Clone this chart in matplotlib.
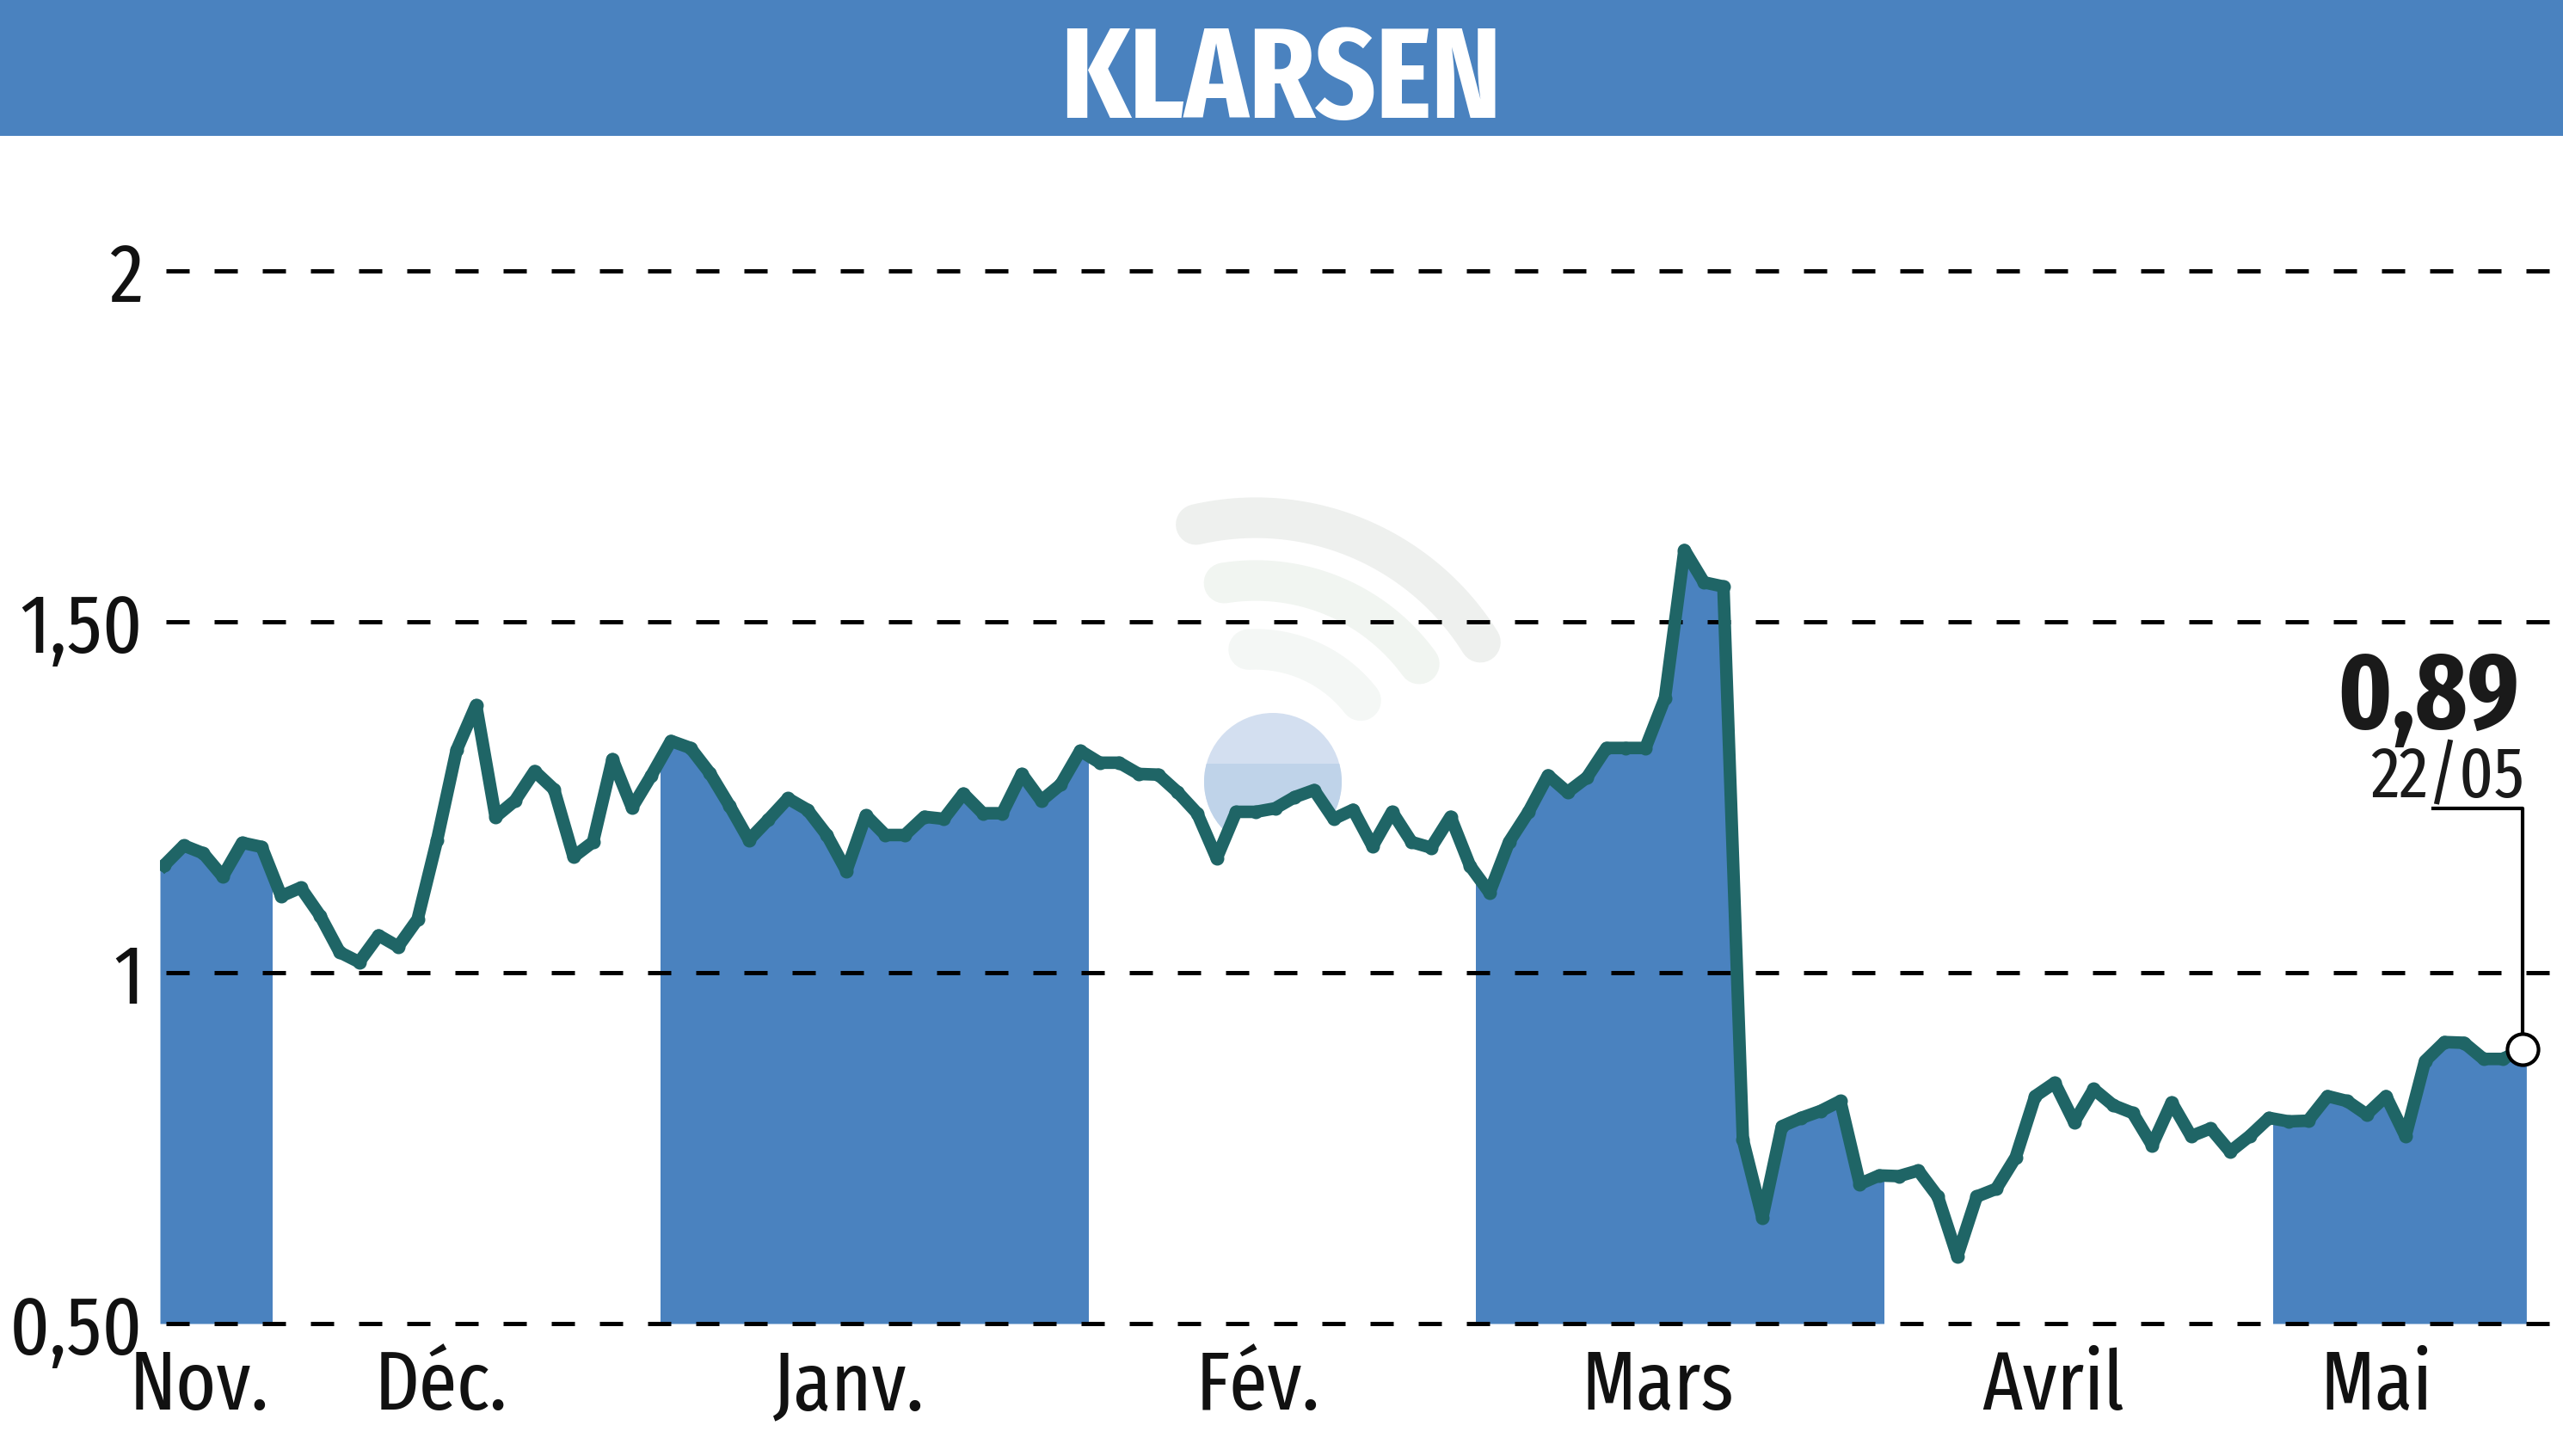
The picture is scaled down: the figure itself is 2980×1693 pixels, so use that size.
import numpy as np
import matplotlib
matplotlib.use("Agg")
import matplotlib.pyplot as plt
from matplotlib.patches import Circle, Rectangle

# Cours de l'action, une valeur par seance
prix = [
    1.153, 1.181, 1.170, 1.137, 1.185, 1.179, 1.109, 1.121, 1.081, 1.029,
    1.015, 1.053, 1.037, 1.076, 1.189, 1.317, 1.381, 1.222, 1.245, 1.287,
    1.261, 1.165, 1.186, 1.304, 1.235, 1.281, 1.330, 1.320, 1.284, 1.238,
    1.189, 1.218, 1.248, 1.232, 1.196, 1.145, 1.224, 1.196, 1.196, 1.222,
    1.219, 1.255, 1.227, 1.227, 1.283, 1.245, 1.268, 1.316, 1.299, 1.299,
    1.283, 1.282, 1.257, 1.227, 1.163, 1.229, 1.229, 1.234, 1.250, 1.260,
    1.219, 1.232, 1.180, 1.229, 1.186, 1.178, 1.222, 1.152, 1.114, 1.186,
    1.229, 1.281, 1.257, 1.278, 1.320, 1.320, 1.320, 1.391, 1.602, 1.556,
    1.550, 0.762, 0.651, 0.781, 0.793, 0.803, 0.817, 0.699, 0.711, 0.710,
    0.718, 0.681, 0.596, 0.681, 0.692, 0.737, 0.824, 0.843, 0.787, 0.834,
    0.811, 0.800, 0.754, 0.815, 0.767, 0.778, 0.745, 0.767, 0.793, 0.788,
    0.789, 0.824, 0.817, 0.798, 0.824, 0.767, 0.874, 0.901, 0.900, 0.877,
    0.877, 0.891,
]
mois = ["Nov.", "Déc.", "Janv.", "Fév.", "Mars", "Avril", "Mai"]
mois_pos = [1.8, 14.2, 35.1, 56.1, 76.6, 96.9, 113.5]
# un mois sur deux est rempli en bleu (debut, fin en seances)
bandes = [(-0.22, 5.5), (25.46, 47.4), (67.3, 88.2), (108.2, 121.2)]
y_ticks = [0.5, 1, 1.5, 2]
y_labels = ["0,50", "1", "1,50", "2"]
dernier_cours = "0,89"
derniere_date = "22/05"

BLEU = "#4a82bf"
VERT = "#1f6566"
NARROW = ["Fira Sans Extra Condensed", "Barlow Condensed", "DejaVu Sans"]

W, H = 2980, 1693
fig = plt.figure(figsize=(W / 100, H / 100), dpi=100, facecolor="white")

# fond en pixels : bandeau, filigrane, textes
bg = fig.add_axes([0, 0, 1, 1], zorder=0)
bg.set_xlim(0, W)
bg.set_ylim(H, 0)
bg.axis("off")

bg.add_patch(Rectangle((0, 0), W, 158, color=BLEU, lw=0))
bg.text(1489, 137, "KLARSEN", color="white", fontsize=107, fontweight="bold",
        family=NARROW, ha="center", va="baseline")

# filigrane
for r, a1, a2, c in [(308, -103, -32, "#eef0ee"), (235, -99, -36, "#f1f5f1"),
                     (155, -93, -38, "#f4f7f5")]:
    t = np.radians(np.linspace(a1, a2, 60))
    bg.plot(1460 + r * np.cos(t), 910 + r * np.sin(t), color=c, lw=34,
            solid_capstyle="round")
bg.add_patch(Circle((1480, 909), 80, color="#d3dff0", lw=0))
bas_boule = Circle((1480, 909), 80, color="#bfd3e9", lw=0)
bg.add_patch(bas_boule)
bas_boule.set_clip_path(Rectangle((1390, 888), 180, 110, transform=bg.transData))

bg.text(2929, 847, dernier_cours, color="#1a1a1a", fontsize=90, fontweight="bold",
        family=NARROW, ha="right", va="baseline")
bg.text(2935, 927, derniere_date, color="#1a1a1a", fontsize=60,
        family=NARROW, ha="right", va="baseline")

# graphique
ax = fig.add_axes([186 / W, (H - 1539) / H, (W - 186) / W, (1539 - 158) / H], zorder=1)
ax.patch.set_visible(False)
ax.set_xlim(-0.22, 123.08)
ax.set_ylim(0.5, 2.192)
for s in ax.spines.values():
    s.set_visible(False)

x = np.arange(len(prix))
prix = np.array(prix)

# le filigrane ne passe pas sous la courbe
ax.fill_between(x, prix, 0.5, color="white", lw=0, zorder=1)

xx = np.r_[-0.22, x, 121.2]
yy = np.r_[prix[0], prix, prix[-1]]
for debut, fin in bandes:
    poly = ax.fill_between(xx, yy, 0.5, color=BLEU, lw=0, zorder=2)
    poly.set_clip_path(Rectangle((debut, 0), fin - debut, 3, transform=ax.transData))

ax.hlines(y_ticks, 0.09, 123.08, color="black", lw=3.6, zorder=3, clip_on=False,
          linestyles=[(0, (5.4, 5.8))])

ax.plot(x, prix, color=VERT, lw=10.5, solid_joinstyle="round", marker="o", ms=10.5,
        zorder=4)

# renvoi vers le dernier cours
ax.plot([x[-1] - 4.6, x[-1], x[-1]], [1.234, 1.234, prix[-1]], color="black", lw=3,
        zorder=5, clip_on=False)
ax.plot([x[-1]], [prix[-1]], marker="o", ms=26, mfc="white", mec="black", mew=3,
        zorder=6, clip_on=False)

ax.set_yticks(y_ticks, y_labels)
ax.set_xticks(mois_pos, mois)
ax.tick_params(axis="both", length=0, labelsize=70, labelcolor="#111111")
ax.tick_params(axis="y", pad=14)
ax.tick_params(axis="x", pad=20)
for t in ax.get_xticklabels() + ax.get_yticklabels():
    t.set_family(NARROW)
for t in ax.get_yticklabels():
    t.set_verticalalignment("center_baseline")

fig.savefig("out.png", dpi=100)
